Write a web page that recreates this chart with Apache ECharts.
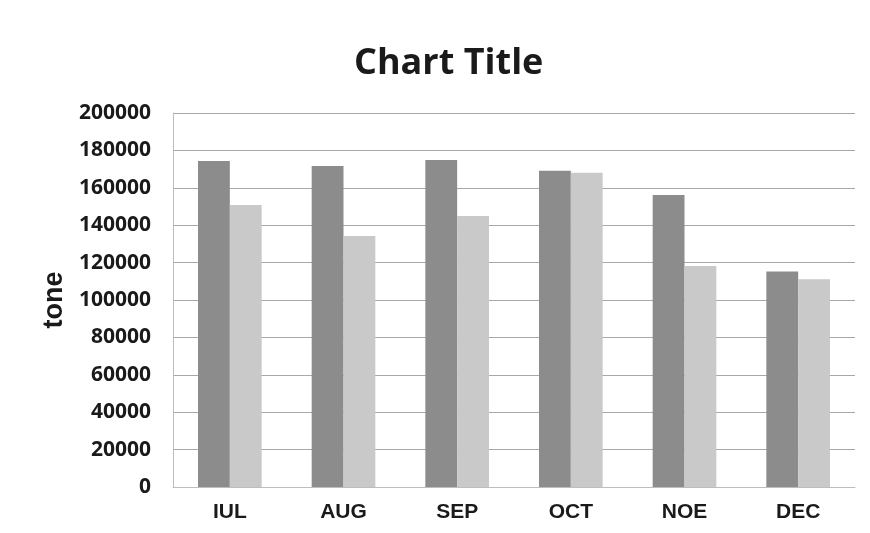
<!DOCTYPE html>
<html>
<head>
<meta charset="utf-8">
<script src="https://cdn.jsdelivr.net/npm/echarts@6/dist/echarts.min.js"></script>
<style>html,body{margin:0;padding:0;background:#fff;}#c{width:870px;height:533px;}</style>
</head>
<body>
<div id="c"></div>
<script>
const categories = ['IUL', 'AUG', 'SEP', 'OCT', 'NOE', 'DEC'];
const seriesA = [174300, 171700, 174900, 169100, 156100, 115300];
const seriesB = [150800, 134200, 144900, 168100, 118200, 111100];
const yTicks = [0, 20000, 40000, 60000, 80000, 100000, 120000, 140000, 160000, 180000, 200000];

const chart = echarts.init(document.getElementById('c'), null, {renderer: 'canvas'});
chart.setOption({
  backgroundColor: '#ffffff',
  animation: false,
  title: {
    text: 'Chart Title',
    left: 349,
    top: 41,
    textStyle: {fontFamily: 'Open Sans', fontWeight: 'bold', fontSize: 36, color: '#1a1a1a'}
  },
  grid: {left: 173, right: 15, top: 113, bottom: 46, containLabel: false},
  xAxis: {
    type: 'category',
    data: categories,
    axisLine: {show: true, lineStyle: {color: '#bdbdbd', width: 1}},
    axisTick: {show: false},
    axisLabel: {margin: 15, fontFamily: 'Liberation Sans', fontWeight: 'bold', fontSize: 21, color: '#1a1a1a'}
  },
  yAxis: {
    type: 'value',
    min: yTicks[0],
    max: yTicks[yTicks.length - 1],
    interval: 20000,
    name: 'tone',
    nameLocation: 'middle',
    nameGap: 98,
    nameRotate: 90,
    nameTextStyle: {fontFamily: 'Liberation Sans', fontWeight: 'bold', fontSize: 27, color: '#1a1a1a'},
    axisLine: {show: true, lineStyle: {color: '#bdbdbd', width: 1}},
    axisTick: {show: false},
    axisLabel: {margin: 22, fontFamily: 'Open Sans', fontWeight: 'bold', fontSize: 21, color: '#1a1a1a',
      formatter: function (v) { return String(v); }},
    splitLine: {show: true, lineStyle: {color: '#a8a8a8', width: 1}}
  },
  series: [
    {type: 'bar', data: seriesA, barGap: '0%', barCategoryGap: '44%', itemStyle: {color: '#8c8c8c'}},
    {type: 'bar', data: seriesB, itemStyle: {color: '#c9c9c9'}}
  ]
});
</script>
</body>
</html>
